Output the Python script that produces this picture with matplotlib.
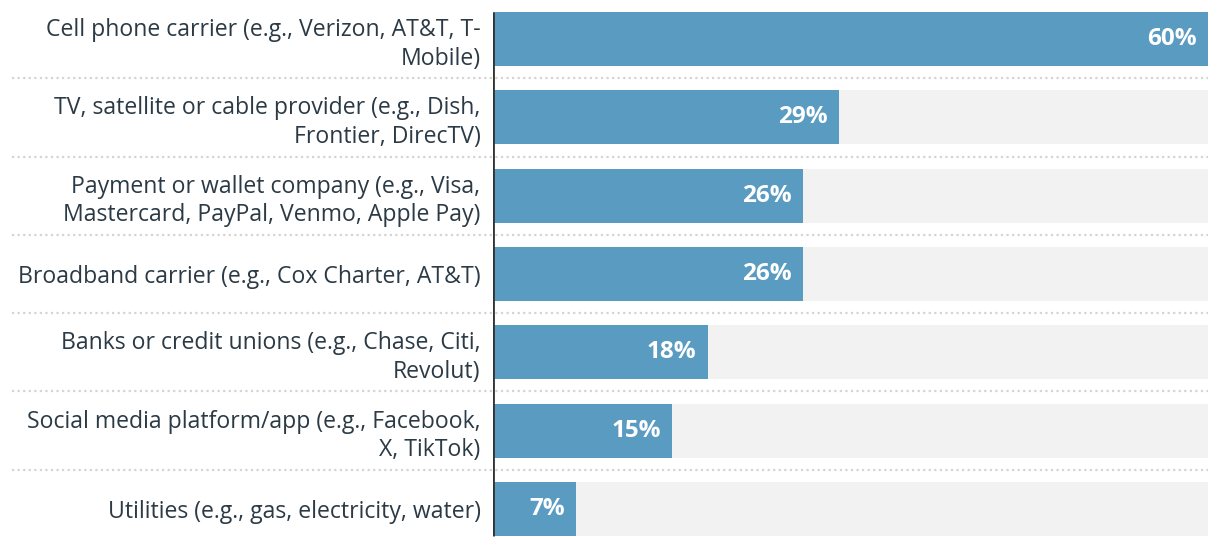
import matplotlib
matplotlib.use("Agg")
import matplotlib.pyplot as plt

# Data
categories = [
    "Cell phone carrier (e.g., Verizon, AT&T, T-\nMobile)",
    "TV, satellite or cable provider (e.g., Dish,\nFrontier, DirecTV)",
    "Payment or wallet company (e.g., Visa,\nMastercard, PayPal, Venmo, Apple Pay)",
    "Broadband carrier (e.g., Cox Charter, AT&T)",
    "Banks or credit unions (e.g., Chase, Citi,\nRevolut)",
    "Social media platform/app (e.g., Facebook,\nX, TikTok)",
    "Utilities (e.g., gas, electricity, water)",
]
values = [60, 29, 26, 26, 18, 15, 7]
max_value = 60

bar_color = "#5a9bc2"
track_color = "#f2f2f2"
text_color = "#2b3a45"

plt.rcParams['font.family'] = ['Open Sans', 'DejaVu Sans']

W, H = 1220, 548
fig = plt.figure(figsize=(W / 100, H / 100), dpi=100)
ax_left, ax_right = 493, 1208
ax = fig.add_axes([ax_left / W, 0, (ax_right - ax_left) / W, 1])

n = len(values)
ypos = list(range(n))
bar_h = 0.69

# background tracks + bars
ax.barh(ypos, [max_value] * n, height=bar_h, color=track_color, zorder=1)
ax.barh(ypos, values, height=bar_h, color=bar_color, zorder=2)

# value labels inside bar ends
for y, v in zip(ypos, values):
    ax.annotate(f"{v}%", xy=(v, y), xytext=(-8, 0), textcoords="offset points",
                ha="right", va="center", color="white", fontsize=17.5,
                fontweight="bold", zorder=3)

# dotted separators across labels and bars
sep_x0 = (12 - ax_left) / (ax_right - ax_left)
for i in range(n - 1):
    ax.plot([sep_x0, 1], [i + 0.5, i + 0.5], transform=ax.get_yaxis_transform(),
            color="#d4d4d4", linestyle=(0, (1, 1.5)), linewidth=1.6,
            clip_on=False, zorder=0)

# axis line
ax.vlines(0, -bar_h / 2, n - 1 + bar_h / 2, color="#333333", linewidth=2, zorder=4)

ax.set_xlim(0, max_value)
ax.set_ylim(n - 0.5, -0.5)
ax.set_yticks(ypos)
ax.set_yticklabels(categories, fontsize=16.6, color=text_color, linespacing=1.25)
ax.tick_params(axis="y", length=0, pad=9)
ax.set_xticks([])
for s in ax.spines.values():
    s.set_visible(False)

fig.savefig("out.png", dpi=100, facecolor="white")
